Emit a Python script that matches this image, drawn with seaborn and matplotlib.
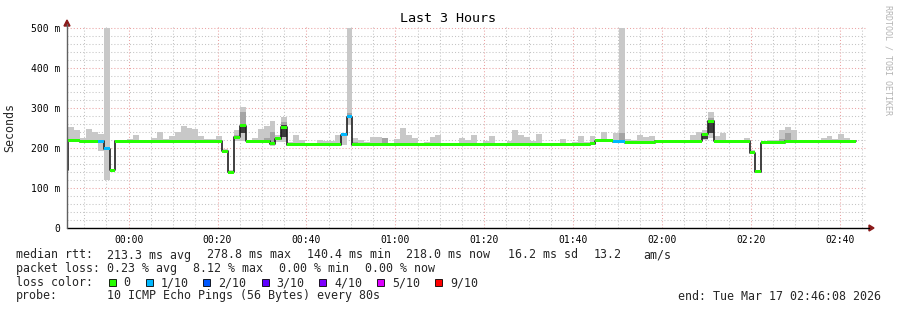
import numpy as np
import pandas as pd
import matplotlib
matplotlib.use("Agg")
import matplotlib.pyplot as plt
import seaborn as sns
from matplotlib.patches import Rectangle, Polygon
from matplotlib.lines import Line2D

# ---------------- data ----------------
graph_start = "2026-03-16 23:46:08"
graph_end = "2026-03-17 02:46:08"
first_step = "2026-03-16 23:45:02"
step_seconds = 80

median_ms = [
    145, 218, 218, 216, 216, 216, 217, 198, 144, 217,
    217, 217, 217, 217, 217, 217, 217, 217, 217, 217,
    217, 217, 217, 217, 217, 217, 217, 192, 139, 227,
    256, 217, 217, 217, 217, 211, 223, 252, 208, 208,
    208, 208, 208, 208, 208, 208, 208, 233, 278, 208,
    208, 208, 208, 208, 208, 208, 208, 208, 208, 208,
    208, 208, 208, 208, 208, 208, 208, 208, 208, 208,
    208, 208, 208, 208, 208, 208, 208, 208, 208, 208,
    208, 208, 208, 208, 208, 208, 208, 208, 208, 211,
    218, 218, 218, 216, 216, 213, 213, 213, 213, 213,
    217, 217, 217, 217, 217, 217, 217, 217, 234, 267,
    217, 217, 217, 217, 217, 217, 188, 141, 213, 213,
    213, 213, 217, 217, 217, 217, 217, 217, 217, 217,
    217, 217, 217, 217,
]

loss_tenths = [
    0, 0, 0, 0, 0, 0, 1, 1, 0, 0,
    0, 0, 0, 0, 0, 0, 0, 0, 0, 0,
    0, 0, 0, 0, 0, 0, 0, 0, 0, 0,
    0, 0, 0, 0, 0, 0, 0, 0, 0, 0,
    0, 0, 0, 0, 0, 0, 0, 1, 1, 0,
    0, 0, 0, 0, 0, 0, 0, 0, 0, 0,
    0, 0, 0, 0, 0, 0, 0, 0, 0, 0,
    0, 0, 0, 0, 0, 0, 0, 0, 0, 0,
    0, 0, 0, 0, 0, 0, 0, 0, 0, 0,
    0, 0, 0, 1, 1, 0, 0, 0, 0, 0,
    0, 0, 0, 0, 0, 0, 0, 0, 0, 0,
    0, 0, 0, 0, 0, 0, 0, 0, 0, 0,
    0, 0, 0, 0, 0, 0, 0, 0, 0, 0,
    0, 0, 0, 0,
]

smoke_hi_ms = [
    147, 252, 246, 224, 247, 241, 235, 500, 147, 219,
    219, 223, 232, 219, 219, 226, 240, 223, 230, 240,
    255, 251, 247, 231, 223, 223, 231, 197, 146, 246,
    302, 219, 226, 247, 255, 267, 232, 278, 216, 232,
    220, 210, 213, 220, 217, 217, 232, 236, 500, 226,
    220, 216, 228, 228, 226, 210, 223, 250, 232, 226,
    210, 216, 227, 233, 213, 210, 213, 226, 219, 232,
    213, 217, 230, 213, 210, 217, 245, 232, 227, 217,
    235, 210, 210, 213, 223, 210, 214, 230, 215, 230,
    223, 240, 223, 237, 500, 223, 220, 232, 227, 230,
    219, 219, 219, 219, 219, 219, 232, 241, 246, 290,
    230, 237, 219, 219, 219, 226, 196, 143, 215, 220,
    220, 245, 252, 245, 219, 219, 219, 219, 224, 230,
    222, 235, 224, 219,
]

smoke_lo_ms = [
    143, 215, 215, 214, 214, 214, 193, 120, 142, 215,
    215, 215, 215, 215, 215, 215, 215, 215, 215, 215,
    215, 215, 215, 215, 215, 215, 215, 188, 137, 217,
    217, 215, 215, 215, 212, 205, 215, 215, 206, 206,
    206, 206, 206, 206, 206, 206, 206, 207, 257, 205,
    206, 206, 206, 206, 206, 206, 206, 206, 206, 206,
    206, 206, 206, 206, 206, 206, 206, 206, 206, 206,
    206, 206, 206, 206, 206, 206, 206, 206, 206, 206,
    206, 206, 206, 206, 206, 206, 206, 206, 206, 209,
    216, 216, 216, 214, 215, 211, 211, 211, 211, 211,
    215, 215, 215, 215, 215, 215, 215, 215, 220, 225,
    215, 215, 215, 215, 215, 215, 185, 139, 211, 211,
    211, 211, 215, 215, 215, 215, 215, 215, 215, 215,
    215, 215, 215, 215,
]

# denser smoke inside some steps (step index, range, density level 1=medium 2=dark)
band_step = [29, 30, 30, 34, 35, 37, 37, 48, 49, 54, 94, 108, 109, 109, 121, 122]
band_lo_ms = [223, 240, 237, 212, 216, 257, 228, 278, 210, 210, 216, 222, 266, 237, 213, 213]
band_hi_ms = [233, 290, 256, 225, 241, 265, 257, 287, 216, 226, 238, 232, 276, 266, 222, 237]
band_level = [1, 1, 2, 1, 1, 1, 2, 1, 1, 1, 1, 2, 1, 2, 1, 1]

time_labels = ["00:00", "00:20", "00:40", "01:00", "01:20", "01:40", "02:00", "02:20", "02:40"]
y_ticks = [0, 100, 200, 300, 400, 500]
y_tick_labels = ["0", "100 m", "200 m", "300 m", "400 m", "500 m"]

loss_keys = ["0", "1/10", "2/10", "3/10", "4/10", "5/10", "9/10"]
loss_key_tenths = [0, 1, 2, 3, 4, 5, 9]
loss_colors = ["#26ff00", "#00b8ff", "#0059ff", "#5e00ff", "#7e00ff", "#dd00ff", "#ff0000"]

title = "Last 3 Hours"
y_label = "Seconds"
stats_rtt = ["median rtt:", "213.3 ms avg", "278.8 ms max", "140.4 ms min",
             "218.0 ms now", "16.2 ms sd", "13.2", "am/s"]
stats_loss = ["packet loss:", "0.23 % avg", "8.12 % max", "0.00 % min", "0.00 % now"]
probe_text = ["probe:", "10 ICMP Echo Pings (56 Bytes) every 80s"]
end_text = "end: Tue Mar 17 02:46:08 2026"
watermark = "RRDTOOL / TOBI OETIKER"

# ---------------- derived ----------------
t0 = pd.Timestamp(graph_start)
t1 = pd.Timestamp(graph_end)
span_min = (t1 - t0).total_seconds() / 60.0
n = len(median_ms)
step_min = step_seconds / 60.0
starts = pd.Timestamp(first_step) + pd.to_timedelta(np.arange(n) * step_seconds, unit="s")
x_start = ((starts - t0).total_seconds() / 60.0).to_numpy()
x_edges = np.append(x_start, x_start[-1] + step_min)

med = np.array(median_ms, float)
lc_map = dict(zip(loss_key_tenths, loss_colors))
med_colors = [lc_map[v] for v in loss_tenths]


def label_to_min(s):
    h, m = map(int, s.split(":"))
    tm = h * 60 + m
    st = t0.hour * 60 + t0.minute + t0.second / 60.0
    return (tm - st) % 1440


major_x = [label_to_min(s) for s in time_labels]
minor_x = [v for v in np.arange(major_x[0] - 20, span_min, 5.0)
           if v >= 0 and all(abs(v - m) > 1e-6 for m in major_x)]

# ---------------- figure ----------------
sns.set_theme(style="white")
plt.rcParams['font.family'] = ['DejaVu Sans Mono', 'DejaVu Sans']

W, H = 897, 310
fig = plt.figure(figsize=(W / 100, H / 100), dpi=100)
fig.patch.set_facecolor("white")


def fx(px):
    return px / W


def fy(py):
    return 1 - py / H


ax_top_px = 25
ax = fig.add_axes([fx(67), fy(228), fx(800), (228 - ax_top_px) / H])
ax.set_facecolor("white")
ax.set_xlim(0, span_min)
ax.set_ylim(0, (228 - ax_top_px) * 2.5)

# grid
minor_col = "#c4c4c4"
major_col = "#eba3a3"
dots = (0, (1, 2))
for v in minor_x:
    ax.axvline(v, color=minor_col, lw=0.75, ls=dots, zorder=0)
for v in major_x:
    ax.axvline(v, color=major_col, lw=0.75, ls=dots, zorder=0)
for v in range(20, 501, 20):
    ax.axhline(v, color=major_col if v % 100 == 0 else minor_col, lw=0.75, ls=dots, zorder=0)

# smoke
ax.bar(x_start, np.array(smoke_hi_ms) - np.array(smoke_lo_ms), bottom=smoke_lo_ms,
       width=step_min, align="edge", color="#c8c8c8", linewidth=0, antialiased=False, zorder=1)
shade = {1: "#a4a4a4", 2: "#3c3c3c"}
ax.bar(x_start[band_step], np.array(band_hi_ms) - np.array(band_lo_ms), bottom=band_lo_ms,
       width=step_min, align="edge", color=[shade[b] for b in band_level],
       linewidth=0, antialiased=False, zorder=2)

# median line (dark) + loss-coloured bands
df = pd.DataFrame({"t": x_edges, "median": np.append(med, med[-1])})
sns.lineplot(data=df, x="t", y="median", drawstyle="steps-post", color="#202020",
             lw=1.2, estimator=None, ax=ax, zorder=3)
ax.bar(x_start, 7.5, bottom=med - 3.75, width=step_min, align="edge",
       color=med_colors, linewidth=0, antialiased=False, zorder=4)

ax.set_xlabel("")
ax.set_ylabel("")
ax.set_xticks(major_x)
ax.set_xticklabels(time_labels)
ax.set_yticks(y_ticks)
ax.set_yticklabels(y_tick_labels)
ax.tick_params(axis="both", length=0, labelsize=7, colors="#000000")
ax.tick_params(axis="x", pad=5)
ax.tick_params(axis="y", pad=5)
for s in ax.spines.values():
    s.set_visible(False)

# axes lines and arrows
fig.add_artist(Line2D([fx(67), fx(869)], [fy(228), fy(228)], color="#000000", lw=1.0))
fig.add_artist(Line2D([fx(67), fx(67)], [fy(228), fy(24)], color="#606060", lw=1.0))
fig.add_artist(Polygon([[fx(869), fy(225)], [fx(874), fy(228)], [fx(869), fy(231)]],
                       closed=True, color="#8b1a1a", transform=fig.transFigure))
fig.add_artist(Polygon([[fx(64), fy(26)], [fx(67), fy(20)], [fx(70), fy(26)]],
                       closed=True, color="#8b1a1a", transform=fig.transFigure))

# texts
fig.text(fx(448), fy(19), title, ha="center", va="center", fontsize=9.6, color="#000000")
fig.text(fx(10), fy(127), y_label, rotation=90, ha="center", va="center", fontsize=8.4)
fig.text(fx(887.5), fy(5), watermark, rotation=270, ha="center", va="top",
         fontsize=6, color="#b4b4b4")

lfs = 8.4
row_y = [255, 268.5, 282.5, 296]
rtt_x = [16, 107.3, 207.3, 307.3, 406, 507.5, 594, 643]
for xx, s in zip(rtt_x, stats_rtt):
    fig.text(fx(xx), fy(row_y[0]), s, ha="left", va="center", fontsize=lfs)
loss_x = [16, 107.3, 193, 279.3, 365.3]
for xx, s in zip(loss_x, stats_loss):
    fig.text(fx(xx), fy(row_y[1]), s, ha="left", va="center", fontsize=lfs)
fig.text(fx(16), fy(row_y[2]), "loss color:", ha="left", va="center", fontsize=lfs)
sq_x = [108.7, 146, 203.3, 262, 319.3, 377.3, 435.3]
for xx, key, col in zip(sq_x, loss_keys, loss_colors):
    fig.add_artist(Rectangle((fx(xx), fy(row_y[2] + 3.5)), 7 / W, 7 / H, facecolor=col,
                             edgecolor="#000000", lw=0.6, transform=fig.transFigure))
    fig.text(fx(xx + 14.7), fy(row_y[2]), key, ha="left", va="center", fontsize=lfs)
fig.text(fx(16), fy(row_y[3]), probe_text[0], ha="left", va="center", fontsize=lfs)
fig.text(fx(107.3), fy(row_y[3]), probe_text[1], ha="left", va="center", fontsize=lfs)
fig.text(fx(678.3), fy(row_y[3]), end_text, ha="left", va="center", fontsize=lfs)

fig.savefig("out.png", dpi=100, facecolor="white")
